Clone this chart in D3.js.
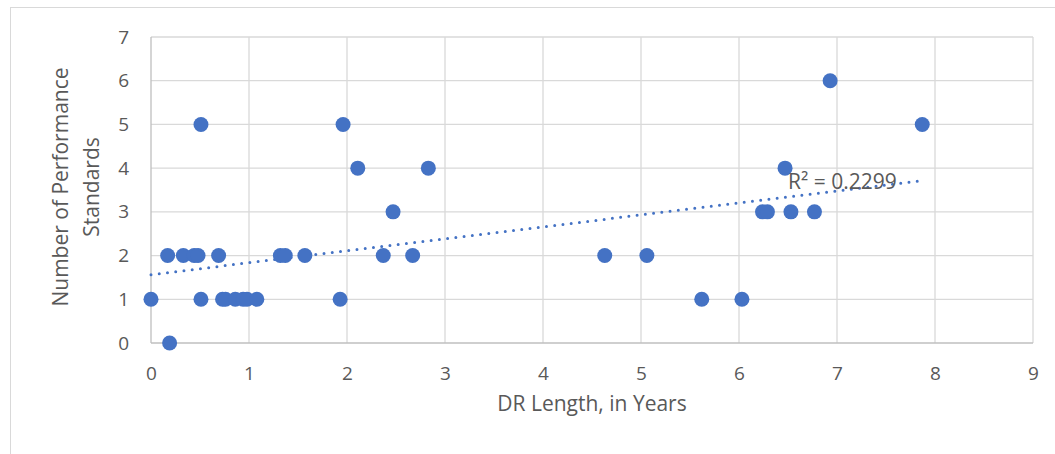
<!DOCTYPE html>
<html>
<head>
<meta charset="utf-8">
<script src="https://cdn.jsdelivr.net/npm/d3@7"></script>
<style>
  body { margin: 0; background: #fff; }
  text { font-family: "Open Sans", "Liberation Sans", sans-serif; fill: #595959; }
</style>
</head>
<body>
<div id="chart"></div>
<script>
// DR length (years) vs number of performance standards
const years = [0.51, 1.96, 2.11, 2.83, 2.47,
    0.17, 0.33, 0.44, 0.48, 0.69, 1.32, 1.37, 1.57, 2.37, 2.67,
    0.00, 0.51, 0.73, 0.76, 0.86, 0.94, 0.98, 1.08, 1.93,
    0.19, 4.63, 5.06, 5.62, 6.03, 6.93, 7.87, 6.47,
    6.24, 6.29, 6.53, 6.77];
const standards = [5, 5, 4, 4, 3,
    2, 2, 2, 2, 2, 2, 2, 2, 2, 2,
    1, 1, 1, 1, 1, 1, 1, 1, 1,
    0, 2, 2, 1, 1, 6, 5, 4,
    3, 3, 3, 3];
const xTicks = [0, 1, 2, 3, 4, 5, 6, 7, 8, 9];
const yTicks = [0, 1, 2, 3, 4, 5, 6, 7];
const rSquaredLabel = "R² = 0.2299";

const width = 1055, height = 454;
const margin = {left: 151, right: 22, top: 37, bottom: 111};

const svg = d3.select("#chart").append("svg")
    .attr("width", width)
    .attr("height", height);

// chart frame (runs off right/bottom)
svg.append("rect")
    .attr("x", 10.5).attr("y", 7.5)
    .attr("width", width + 10).attr("height", height + 10)
    .attr("fill", "none").attr("stroke", "#d9d9d9");

const x = d3.scaleLinear().domain([0, 9]).range([margin.left, width - margin.right]);
const y = d3.scaleLinear().domain([0, 7]).range([height - margin.bottom, margin.top]);

const grid = svg.append("g");
grid.selectAll(".vg").data(xTicks.slice(1)).enter().append("line")
    .attr("x1", d => x(d)).attr("x2", d => x(d))
    .attr("y1", y(0)).attr("y2", y(7))
    .attr("stroke", "#d9d9d9").attr("stroke-width", 1.3);
grid.selectAll(".hg").data(yTicks.slice(1)).enter().append("line")
    .attr("x1", x(0)).attr("x2", x(9))
    .attr("y1", d => y(d)).attr("y2", d => y(d))
    .attr("stroke", "#d9d9d9").attr("stroke-width", 1.3);

// axis lines
svg.append("line").attr("x1", x(0)).attr("x2", x(9)).attr("y1", y(0)).attr("y2", y(0))
    .attr("stroke", "#bfbfbf").attr("stroke-width", 1.3);
svg.append("line").attr("x1", x(0)).attr("x2", x(0)).attr("y1", y(0)).attr("y2", y(7))
    .attr("stroke", "#bfbfbf").attr("stroke-width", 1.3);

const xAxis = d3.axisBottom(x).tickValues(xTicks).tickFormat(d3.format("d")).tickSize(0).tickPadding(24);
svg.append("g").attr("transform", `translate(0,${y(0)})`).call(xAxis)
    .call(g => g.select(".domain").remove())
    .selectAll("text").style("font-size", "19px").attr("fill", "#595959");

const yAxis = d3.axisLeft(y).tickValues(yTicks).tickFormat(d3.format("d")).tickSize(0).tickPadding(22);
svg.append("g").attr("transform", `translate(${x(0)},0)`).call(yAxis)
    .call(g => g.select(".domain").remove())
    .selectAll("text").style("font-size", "19px").attr("fill", "#595959");

// axis titles
svg.append("text")
    .attr("x", (x(0) + x(9)) / 2).attr("y", 411)
    .attr("text-anchor", "middle")
    .style("font-size", "21px")
    .text("DR Length, in Years");

const yTitle = svg.append("text")
    .attr("transform", `translate(68,187) rotate(-90)`)
    .attr("text-anchor", "middle")
    .style("font-size", "21px");
yTitle.append("tspan").attr("x", 0).attr("dy", 0).text("Number of Performance");
yTitle.append("tspan").attr("x", 0).attr("dy", 31).text("Standards");

// linear trendline (least squares)
const mx = d3.mean(years), my = d3.mean(standards);
const slope = d3.sum(years, (v, i) => (v - mx) * (standards[i] - my)) / d3.sum(years, v => (v - mx) ** 2);
const intercept = my - slope * mx;
const xMax = d3.max(years);
svg.append("line")
    .attr("x1", x(0)).attr("y1", y(intercept))
    .attr("x2", x(xMax)).attr("y2", y(intercept + slope * xMax))
    .attr("stroke", "#4472c4").attr("stroke-width", 3)
    .attr("stroke-linecap", "round")
    .attr("stroke-dasharray", "0,8.3");

svg.append("g").selectAll("circle")
    .data(years).enter().append("circle")
    .attr("cx", d => x(d))
    .attr("cy", (d, i) => y(standards[i]))
    .attr("r", 7.5)
    .attr("fill", "#4472c4");

svg.append("text")
    .attr("x", 788).attr("y", 189)
    .style("font-size", "21px")
    .text(rSquaredLabel);
</script>
</body>
</html>
